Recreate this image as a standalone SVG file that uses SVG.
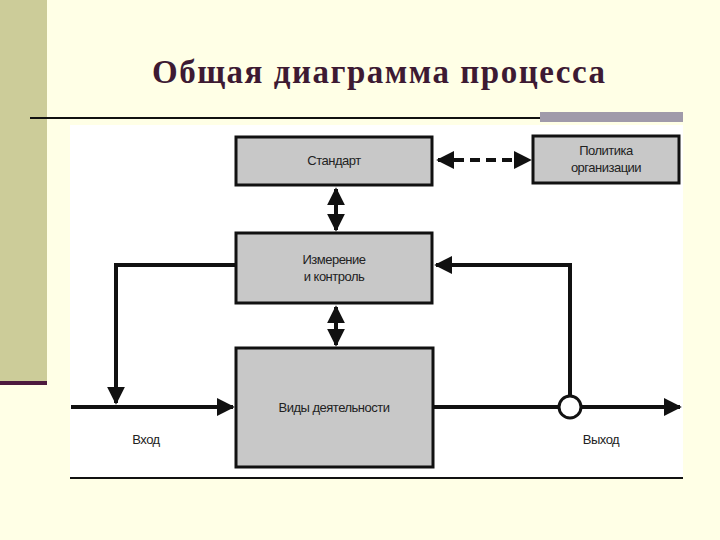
<svg xmlns="http://www.w3.org/2000/svg" width="720" height="540" viewBox="0 0 720 540">
<defs>
<style>
.box{fill:#c8c8c8;stroke:#111;stroke-width:3}
.ln{fill:none;stroke:#111;stroke-width:4}
.t{font-family:"Liberation Sans",Arial,sans-serif;font-size:13px;fill:#222;text-anchor:middle;letter-spacing:-0.5px}
</style>
<marker id="ah" viewBox="0 0 10 10" refX="9" refY="5" markerWidth="4.5" markerHeight="4.5" orient="auto-start-reverse"><path d="M0,0L10,5L0,10z" fill="#111"/></marker>
</defs>
<rect width="720" height="540" fill="#ffffe6"/>
<rect x="0" y="0" width="47" height="382" fill="#cccc99"/>
<rect x="0" y="381" width="47" height="4" fill="#4d1a3d"/>
<text x="152" y="83" font-family="Liberation Serif,serif" font-size="33" font-weight="bold" fill="#3d1a33" textLength="453" lengthAdjust="spacing">Общая диаграмма процесса</text>
<line x1="30" y1="118" x2="540" y2="118" stroke="#111" stroke-width="2"/>
<rect x="540" y="112" width="143" height="10" fill="#a09aaa"/>
<rect x="70" y="125" width="613" height="353" fill="#fff"/>
<line x1="70" y1="478" x2="683" y2="478" stroke="#111" stroke-width="2"/>
<g id="connectors">
<line class="ln" x1="336" y1="189" x2="336" y2="230" marker-start="url(#ah)" marker-end="url(#ah)"/>
<line class="ln" x1="336" y1="307" x2="336" y2="345" marker-start="url(#ah)" marker-end="url(#ah)"/>
<line class="ln" x1="438" y1="160" x2="530" y2="160" stroke-dasharray="10,6" marker-start="url(#ah)" marker-end="url(#ah)"/>
<line class="ln" x1="71" y1="407" x2="233" y2="407" marker-end="url(#ah)"/>
<polyline class="ln" points="236,265 116,265 116,403" marker-end="url(#ah)"/>
<line class="ln" x1="433" y1="407" x2="558" y2="407"/>
<line class="ln" x1="582" y1="407" x2="680" y2="407" marker-end="url(#ah)"/>
<polyline class="ln" points="570,395 570,265 436,265" marker-end="url(#ah)"/>
<circle cx="570" cy="407" r="11" fill="#fff" stroke="#111" stroke-width="3"/>
</g>
<g id="standard"><rect class="box" x="236" y="137" width="196" height="48"/><text class="t" x="334" y="165">Стандарт</text></g>
<g id="policy"><rect class="box" x="533" y="136" width="146" height="47"/><text class="t" x="606" y="155">Политика</text><text class="t" x="606" y="172">организации</text></g>
<g id="measure"><rect class="box" x="236" y="233" width="196" height="70"/><text class="t" x="334" y="264">Измерение</text><text class="t" x="334" y="281">и контроль</text></g>
<g id="activities"><rect class="box" x="236" y="348" width="197" height="119"/><text class="t" x="334" y="412">Виды деятельности</text></g>
<text class="t" x="146" y="444">Вход</text>
<text class="t" x="601" y="444">Выход</text>
</svg>
